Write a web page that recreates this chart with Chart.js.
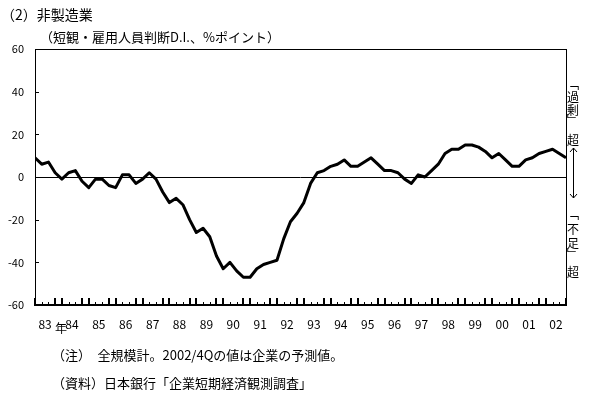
<!DOCTYPE html>
<html>
<head>
<meta charset="utf-8">
<script src="https://cdn.jsdelivr.net/npm/chart.js@4/dist/chart.umd.min.js"></script>
<style>
html, body { margin: 0; padding: 0; background: #fff; }
#wrap { width: 593px; height: 399px; position: relative; }
</style>
</head>
<body>
<div id="wrap"><canvas id="chart" width="593" height="399"></canvas></div>
<script>
const FONT = "'Noto Sans CJK JP', sans-serif";

/* quarterly D.I., 1983/1Q .. 2002/4Q */
const yearLabels = ["83", "84", "85", "86", "87", "88", "89", "90", "91", "92",
  "93", "94", "95", "96", "97", "98", "99", "00", "01", "02"];
const diValues = [
  9, 6, 7, 2, -1, 2, 3, -2,
  -5, -1, -1, -4, -5, 1, 1, -3,
  -1, 2, -1, -7, -12, -10, -13, -20,
  -26, -24, -28, -37, -43, -40, -44, -47,
  -47, -43, -41, -40, -39, -29, -21, -17,
  -12, -3, 2, 3, 5, 6, 8, 5,
  5, 7, 9, 6, 3, 3, 2, -1,
  -3, 1, 0, 3, 6, 11, 13, 13,
  15, 15, 14, 12, 9, 11, 8, 5,
  5, 8, 9, 11, 12, 13, 11, 9
];
const yTicks = [-60, -40, -20, 0, 20, 40, 60];

const titleText = "（2）非製造業";
const unitText = "（短観・雇用人員判断D.I.、%ポイント）";
const noteText = "（注）　全規模計。2002/4Qの値は企業の予測値。";
const sourceText = "（資料）日本銀行「企業短期経済観測調査」";
const overText = ["﹁", "過", "剰", "﹂"];
const underText = ["﹁", "不", "足", "﹂"];

const decor = {
  id: "decor",
  afterDraw(chart) {
    const ctx = chart.ctx;
    const a = chart.chartArea;
    const xs = chart.scales.x;
    const ys = chart.scales.y;
    ctx.save();
    ctx.fillStyle = "#000";
    ctx.strokeStyle = "#000";

    /* plot frame, heavier base line */
    ctx.lineWidth = 1;
    ctx.strokeRect(a.left + 0.5, a.top + 0.5, a.right - a.left, a.bottom - a.top);
    ctx.fillRect(a.left, a.bottom - 1, a.right - a.left + 1, 2);

    /* quarter ticks: tall pair around each year boundary */
    diValues.forEach((v, i) => {
      const px = Math.round(xs.getPixelForValue(i));
      if (i % 4 === 0 || i % 4 === 3) {
        ctx.fillRect(px - 1, a.bottom - 7, 2, 8);
      } else {
        ctx.fillRect(px, a.bottom - 3, 1, 4);
      }
    });

    /* y ticks inside */
    yTicks.forEach(v => {
      const py = Math.round(ys.getPixelForValue(v)) + 0.5;
      ctx.beginPath();
      ctx.moveTo(a.left, py);
      ctx.lineTo(a.left + 4, py);
      ctx.stroke();
    });

    /* 年 */
    ctx.font = "12px " + FONT;
    ctx.textAlign = "center";
    ctx.textBaseline = "middle";
    ctx.fillText("年", xs.getPixelForValue(4) - 1, 328);

    /* titles and notes */
    ctx.textAlign = "left";
    ctx.font = "14px " + FONT;
    ctx.fillText(titleText, 1, 15);
    ctx.font = "13px " + FONT;
    ctx.fillText(unitText, 40, 37);
    ctx.fillText(noteText, 52, 355);
    ctx.fillText(sourceText, 52, 383);

    /* right side vertical notes */
    const cx = 573;
    ctx.font = "12px " + FONT;
    ctx.textAlign = "center";
    const overY = [84, 97, 110, 120];
    overText.forEach((c, k) => ctx.fillText(c, cx, overY[k]));
    ctx.fillText("超", cx, 140);
    const underY = [214, 229, 243, 254];
    underText.forEach((c, k) => ctx.fillText(c, cx, underY[k]));
    ctx.fillText("超", cx, 272);

    /* double arrow */
    ctx.beginPath();
    ctx.moveTo(cx + 0.5, 148);
    ctx.lineTo(cx + 0.5, 198);
    ctx.moveTo(cx - 3, 152);
    ctx.lineTo(cx + 0.5, 148);
    ctx.lineTo(cx + 4, 152);
    ctx.moveTo(cx - 3, 194);
    ctx.lineTo(cx + 0.5, 198);
    ctx.lineTo(cx + 4, 194);
    ctx.stroke();
    ctx.restore();
  }
};

new Chart(document.getElementById("chart"), {
  type: "line",
  data: {
    datasets: [{
      data: diValues.map((v, i) => ({ x: i, y: v })),
      borderColor: "#000",
      borderWidth: 3,
      borderJoinStyle: "round",
      pointRadius: 0,
      tension: 0
    }]
  },
  options: {
    responsive: false,
    animation: false,
    layout: { padding: { top: 49, right: 27, left: 0, bottom: 0 } },
    plugins: { legend: { display: false }, tooltip: { enabled: false } },
    scales: {
      x: {
        type: "linear",
        min: 0,
        max: diValues.length - 1,
        afterBuildTicks: s => { s.ticks = yearLabels.map((_, k) => ({ value: 4 * k + 1.5 })); },
        afterFit: s => { s.height = 94; },
        grid: { display: false, drawTicks: false },
        border: { display: false },
        ticks: {
          autoSkip: false,
          maxRotation: 0,
          padding: 12,
          color: "#000",
          font: { family: FONT, size: 12 },
          callback: (v, idx) => yearLabels[idx]
        }
      },
      y: {
        min: -60,
        max: 60,
        afterFit: s => { s.width = 35; },
        afterBuildTicks: s => { s.ticks = yTicks.map(v => ({ value: v })); },
        grid: {
          drawTicks: false,
          color: c => (c.tick && c.tick.value === 0 ? "#000" : "rgba(0,0,0,0)"),
          lineWidth: 1
        },
        border: { display: false },
        ticks: {
          padding: 11,
          color: "#000",
          font: { family: FONT, size: 11 }
        }
      }
    }
  },
  plugins: [decor]
});
</script>
</body>
</html>
